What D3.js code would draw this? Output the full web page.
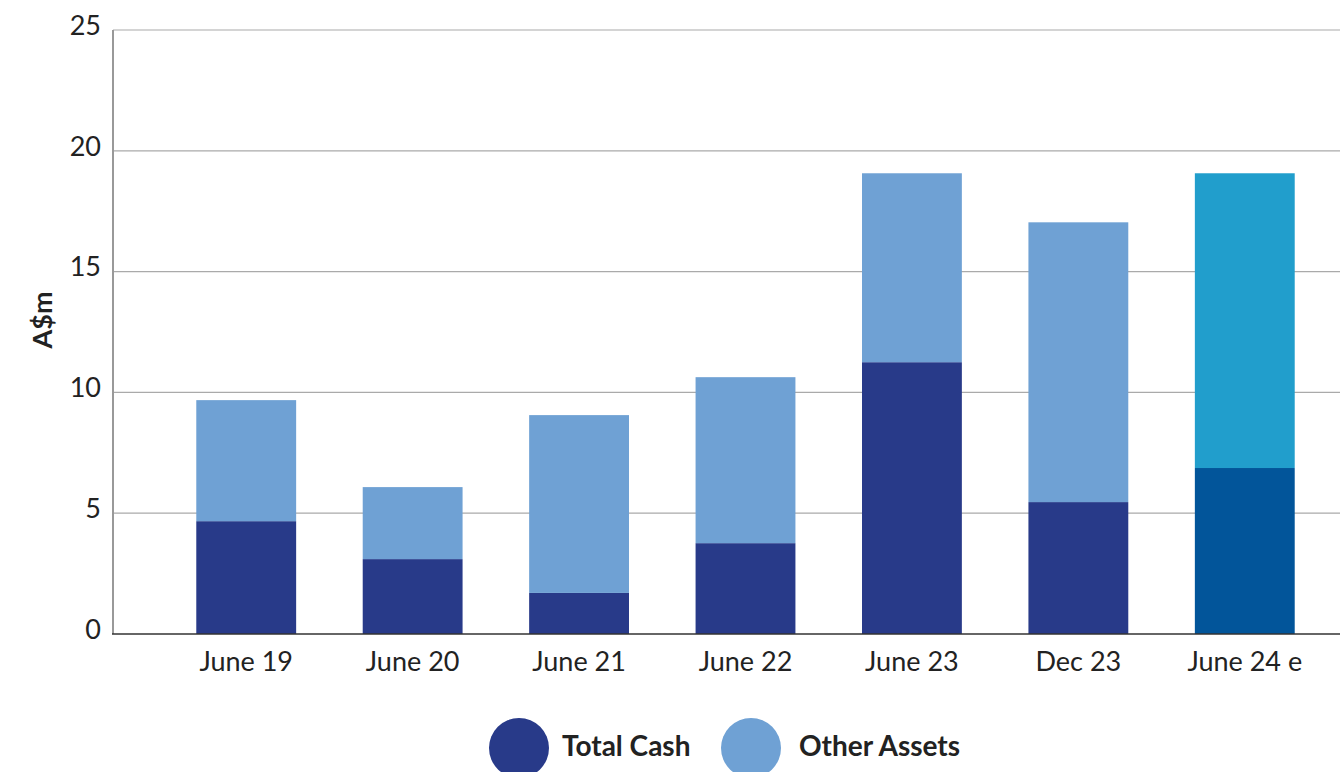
<!DOCTYPE html>
<html><head><meta charset="utf-8">
<script src="https://cdn.jsdelivr.net/npm/d3@7"></script>
<style>body{margin:0;background:#fff}svg{display:block}</style>
</head><body>
<svg id="c" width="1340" height="772"></svg>
<script>
const categories = ["June 19","June 20","June 21","June 22","June 23","Dec 23","June 24 e"];
const totalCash = [4.67, 3.1, 1.7, 3.76, 11.25, 5.46, 6.87];
const otherAssets = [5.01, 2.98, 7.36, 6.87, 7.82, 11.58, 12.2];
const yTicks = [0,5,10,15,20,25];
const seriesNames = ["Total Cash","Other Assets"];
const colors = {cash:"#283a89", other:"#6fa1d4", cashEst:"#02559a", otherEst:"#219ecc"};

const svg = d3.select("#c");
const font = "Lato, 'Open Sans', sans-serif";
const x = d3.scaleBand().domain(categories).range([163,1328]).paddingInner(0.4).paddingOuter(0.2);
const y = d3.scaleLinear().domain([0,25]).range([634,30]);

// gridlines
svg.append("g").selectAll("line").data(yTicks.filter(d=>d>0)).join("line")
  .attr("x1",113).attr("x2",1340).attr("y1",d=>y(d)).attr("y2",d=>y(d))
  .attr("stroke","#aaaaaa").attr("stroke-width",1.2);

// y tick labels
svg.append("g").selectAll("text").data(yTicks).join("text")
  .attr("x",101).attr("y",d=>y(d)-2).attr("text-anchor","end").attr("dominant-baseline","middle")
  .attr("font-family",font).attr("font-size",27).attr("fill","#222").text(d=>d);

// bars
const stack = categories.map((c,i)=>({c,i,cash:totalCash[i],other:otherAssets[i]}));
const est = d => d.c === "June 24 e";
svg.append("g").selectAll("rect").data(stack).join("rect")
  .attr("x",d=>x(d.c)).attr("width",x.bandwidth())
  .attr("y",d=>y(d.cash)).attr("height",d=>y(0)-y(d.cash))
  .attr("fill",d=>est(d)?colors.cashEst:colors.cash);
svg.append("g").selectAll("rect").data(stack).join("rect")
  .attr("x",d=>x(d.c)).attr("width",x.bandwidth())
  .attr("y",d=>y(d.cash+d.other)).attr("height",d=>y(d.cash)-y(d.cash+d.other))
  .attr("fill",d=>est(d)?colors.otherEst:colors.other);

// axes lines
svg.append("line").attr("x1",113).attr("x2",113).attr("y1",y(25)).attr("y2",y(0))
  .attr("stroke","#999").attr("stroke-width",2);
svg.append("line").attr("x1",112).attr("x2",1340).attr("y1",y(0)).attr("y2",y(0))
  .attr("stroke","#333").attr("stroke-width",1.5);

// x labels
svg.append("g").selectAll("text").data(categories).join("text")
  .attr("x",d=>x(d)+x.bandwidth()/2).attr("y",664).attr("text-anchor","middle").attr("dominant-baseline","middle")
  .attr("font-family",font).attr("font-size",27).attr("fill","#222").text(d=>d);

// y title
svg.append("text").attr("transform","translate(45,320) rotate(-90)").attr("text-anchor","middle")
  .attr("dominant-baseline","middle").attr("font-family",font).attr("font-weight",700)
  .attr("font-size",27).attr("fill","#222").text("A$m");

// legend
const leg = [{n:seriesNames[0],c:colors.cash,cx:519,tx:562},{n:seriesNames[1],c:colors.other,cx:751,tx:799}];
const lg = svg.append("g");
lg.selectAll("circle").data(leg).join("circle").attr("cx",d=>d.cx).attr("cy",748).attr("r",30).attr("fill",d=>d.c);
lg.selectAll("text").data(leg).join("text").attr("x",d=>d.tx).attr("y",749).attr("dominant-baseline","middle")
  .attr("font-family",font).attr("font-weight",700).attr("font-size",28).attr("fill","#222").text(d=>d.n);
</script>
</body></html>
